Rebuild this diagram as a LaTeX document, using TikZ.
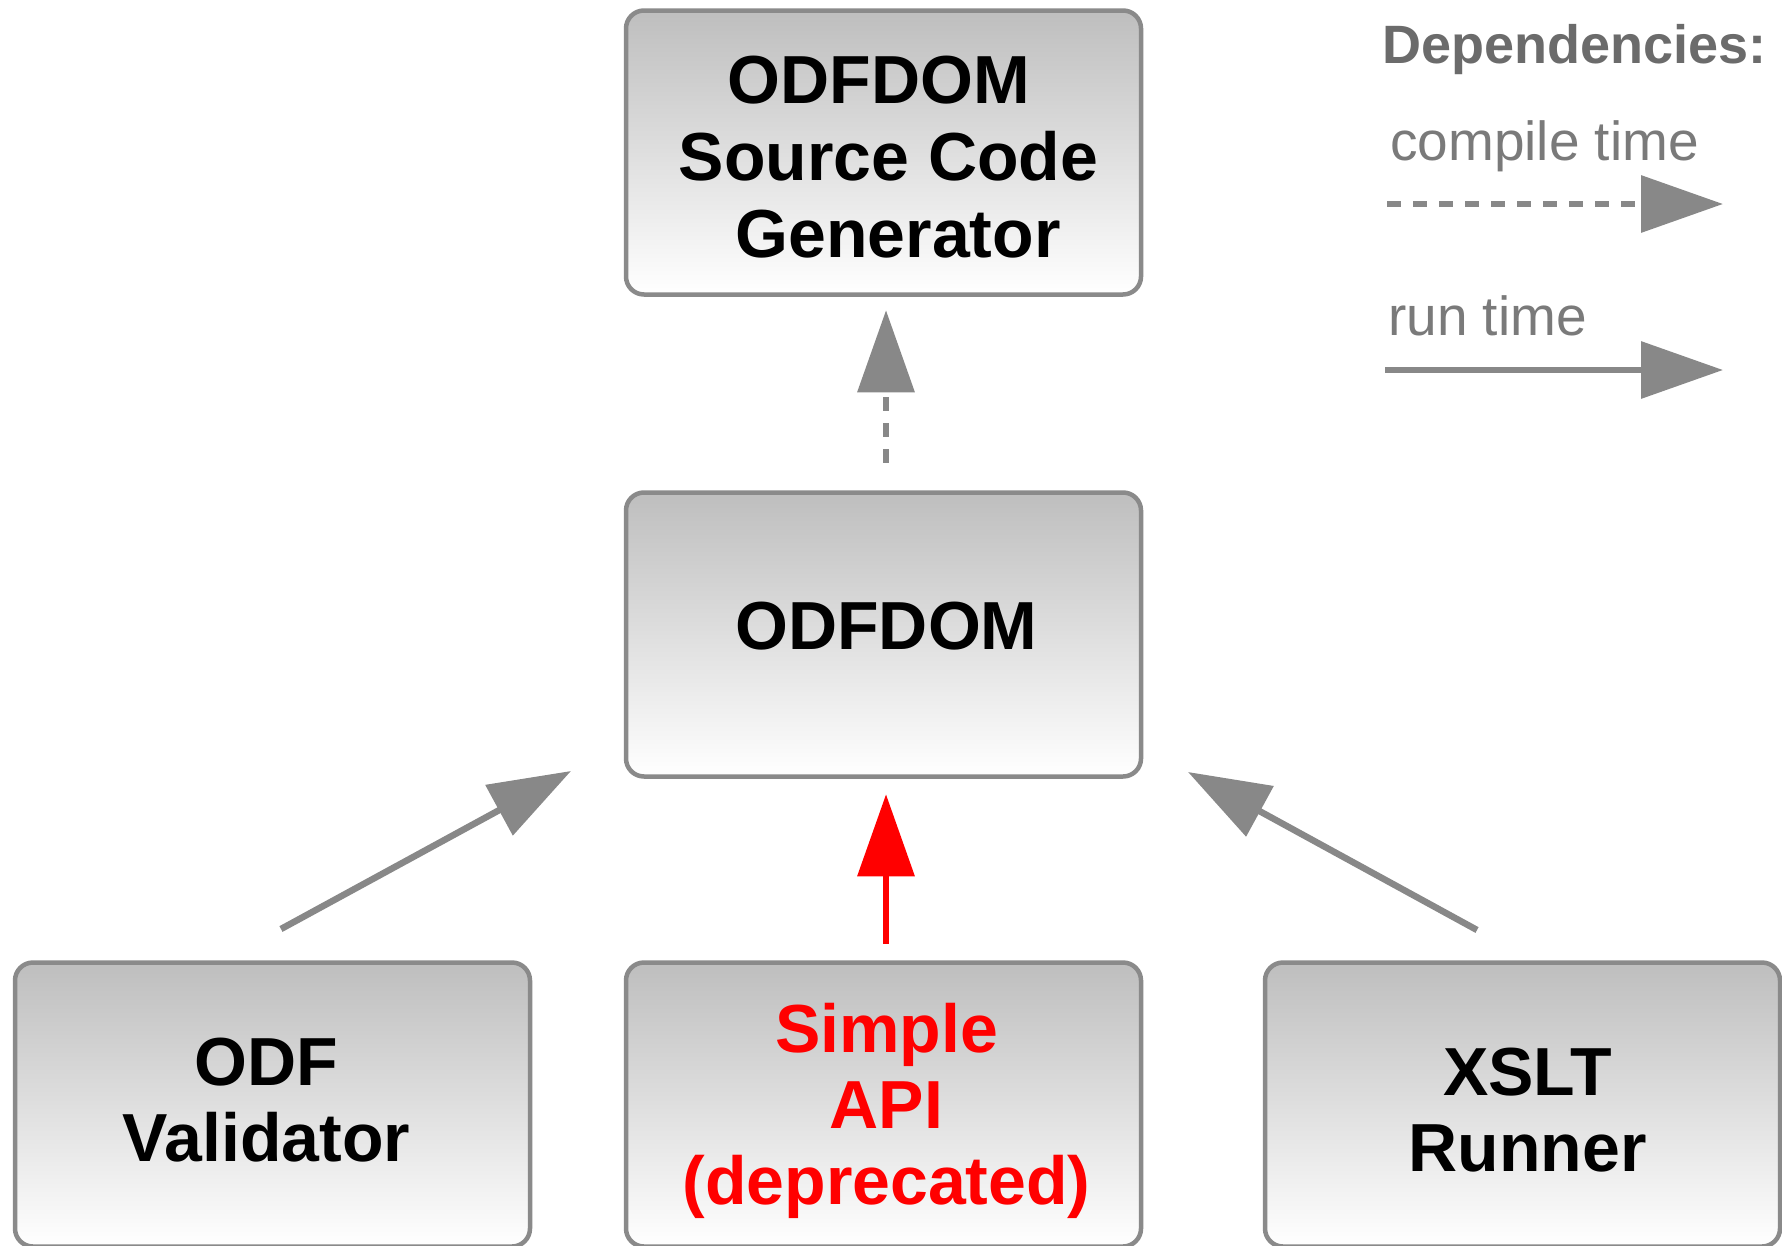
\documentclass[tikz,border=0pt]{standalone}
\usepackage{fontspec}
\setmainfont{Liberation Sans}
\usetikzlibrary{arrows.meta}
\definecolor{boxborder}{HTML}{8A8A8A}
\definecolor{boxtop}{HTML}{BEBEBE}
\definecolor{boxbot}{HTML}{FFFFFF}
\definecolor{arrowgray}{HTML}{888888}
\definecolor{legtitlecol}{HTML}{6B6B6B}
\definecolor{legtextcol}{HTML}{7A7A7A}
\definecolor{deprecred}{HTML}{FF0000}
\begin{document}
\begin{tikzpicture}[x=1pt,y=-1pt,
  box/.style={draw=boxborder, line width=4.5pt, rounded corners=18pt,
    top color=boxtop, bottom color=boxbot,
    minimum width=515pt, minimum height=284pt, inner sep=0pt},
  boxtext/.style={inner sep=0pt, align=center,
    font=\fontsize{68}{76}\selectfont\bfseries},
  dep/.style={color=arrowgray, line width=6.5pt,
    -{Triangle[length=82pt,width=56pt]}},
  compiledep/.style={dep, dash pattern=on 14pt off 12pt},
  rundep/.style={dep},
  deprecdep/.style={dep, color=deprecred},
  legendtitle/.style={inner sep=0pt, text=legtitlecol,
    font=\fontsize{54}{60}\selectfont\bfseries},
  legendtext/.style={inner sep=0pt, text=legtextcol,
    font=\fontsize{55}{60}\selectfont}]
\useasboundingbox (0,0) rectangle (1782,1245);
\fill[white] (0,0) rectangle (1782,1245);

% boxes
\node[box] (gen) at (883.5,152.5) {};
\node[box] (odf) at (883.5,634.5) {};
\node[box] (val) at (272.5,1104.5) {};
\node[box] (api) at (883.5,1104.5) {};
\node[box] (xslt) at (1522.5,1104.5) {};

% box texts
\node[boxtext, font=\fontsize{68}{77}\selectfont\bfseries, xshift=5pt, yshift=-4.5pt] (gentxt) at (gen.center)
  {ODFDOM\hbox to 19pt{}\\Source Code\\\hbox to 19pt{}Generator};
\node[boxtext, xshift=3pt, yshift=8.5pt] (odftxt) at (odf.center) {ODFDOM};
\node[boxtext, xshift=-6pt, yshift=4pt] (valtxt) at (val.center) {ODF\\Validator};
\node[boxtext, text=deprecred, xshift=3pt, yshift=-6pt] (apitxt) at (api.center)
  {Simple\\API\\(deprecated)};
\node[boxtext, xshift=5pt, yshift=-6pt] (xslttxt) at (xslt.center) {XSLT\\Runner};

% dependency arrows
\draw[compiledep, shorten <=27.5pt, shorten >=13.5pt]
  ([xshift=2.5pt]odf.north) -- ([xshift=2.5pt]gen.south);
\draw[deprecdep, shorten <=16.5pt, shorten >=15.5pt]
  ([xshift=2.5pt]api.north) -- ([xshift=2.5pt]odf.south);
\coordinate (vs) at (281,929);
\coordinate (vt) at (571,771);
\draw[rundep] (vs) -- (vt);
\coordinate (xs) at (1477,930);
\coordinate (xt) at (1188,772);
\draw[rundep] (xs) -- (xt);

% legend
\node[legendtitle, anchor=base west] (deptitle) at (1382,63) {Dependencies:};
\node[legendtext, anchor=base west] (ctlabel) at (1390,160) {compile time};
\coordinate (cts) at (1387,204);
\coordinate (cte) at (1723,204);
\draw[compiledep] (cts) -- (cte);
\node[legendtext, anchor=base west] (rtlabel) at (1388,335) {run time};
\coordinate (rts) at (1385,370);
\coordinate (rte) at (1723,370);
\draw[rundep] (rts) -- (rte);
\end{tikzpicture}
\end{document}
